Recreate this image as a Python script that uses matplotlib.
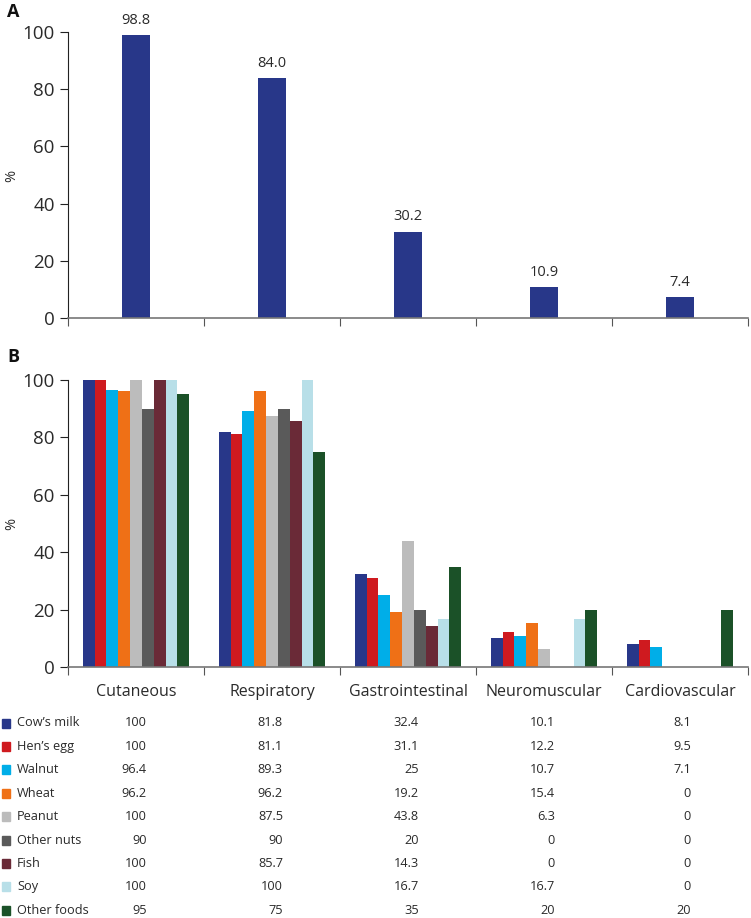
import numpy as np
import matplotlib.pyplot as plt
from matplotlib.patches import Rectangle
from matplotlib.transforms import blended_transform_factory

plt.rcParams['font.family'] = ['Open Sans', 'DejaVu Sans']

# -- Data
systems = ['Cutaneous', 'Respiratory', 'Gastrointestinal', 'Neuromuscular', 'Cardiovascular']
overall = [98.8, 84.0, 30.2, 10.9, 7.4]

foods = ['Cow\u2019s milk', 'Hen\u2019s egg', 'Walnut', 'Wheat', 'Peanut',
         'Other nuts', 'Fish', 'Soy', 'Other foods']
cows_milk = [100, 81.8, 32.4, 10.1, 8.1]
hens_egg = [100, 81.1, 31.1, 12.2, 9.5]
walnut = [96.4, 89.3, 25, 10.7, 7.1]
wheat = [96.2, 96.2, 19.2, 15.4, 0]
peanut = [100, 87.5, 43.8, 6.3, 0]
other_nuts = [90, 90, 20, 0, 0]
fish = [100, 85.7, 14.3, 0, 0]
soy = [100, 100, 16.7, 16.7, 0]
other_foods = [95, 75, 35, 20, 20]
food_values = [cows_milk, hens_egg, walnut, wheat, peanut, other_nuts, fish, soy, other_foods]

colors = ['#283789', '#cf1a1f', '#00aee8', '#ef7016', '#bcbcbc',
          '#5a5a5a', '#6a2a37', '#b8dfe8', '#1b5128']

W, H = 751, 918
fig = plt.figure(figsize=(W / 100, H / 100), dpi=100)

x = np.arange(len(systems))
tc = '#2a2a2a'


def style_axes(ax):
    ax.set_xlim(-0.5, len(systems) - 0.5)
    ax.set_ylim(0, 100)
    ax.set_yticks([0, 20, 40, 60, 80, 100])
    ax.spines['top'].set_visible(False)
    ax.spines['right'].set_visible(False)
    ax.spines['left'].set_color('#222222')
    ax.spines['bottom'].set_color('#777777')
    ax.spines['bottom'].set_linewidth(1.2)
    ax.tick_params(axis='y', labelsize=13.5, colors='#222222', length=6, labelcolor=tc)
    ax.set_xticks(np.arange(len(systems) + 1) - 0.5)
    ax.set_xticklabels([])
    ax.tick_params(axis='x', length=6, color='#555555')
    ax.set_xticks(x, minor=True)
    ax.tick_params(axis='x', which='minor', length=0, labelsize=11.5, labelcolor=tc, pad=12)


# -- Panel A
axA = fig.add_axes([68 / W, 1 - 318 / H, 680 / W, 286 / H])
bars = axA.bar(x, overall, width=0.213, color=colors[0])
for b, v in zip(bars, overall):
    axA.text(b.get_x() + b.get_width() / 2, v + 2.5, f'{v:.1f}', ha='center', va='bottom',
             fontsize=10.5, color=tc)
style_axes(axA)
fig.text(7 / W, 1 - 12 / H, 'A', fontsize=13, fontweight='bold', va='center', color='#111111')
fig.text(12 / W, 1 - 176 / H, '%', fontsize=10.5, rotation=90, ha='center', va='center', color=tc)

# -- Panel B
axB = fig.add_axes([68 / W, 1 - 667 / H, 680 / W, 287 / H])
w = 0.087
n = len(foods)
for j, (vals, c) in enumerate(zip(food_values, colors)):
    axB.bar(x + (j - (n - 1) / 2) * w, vals, width=w, color=c)
style_axes(axB)
axB.set_xticklabels(systems, minor=True)
fig.text(7 / W, 1 - 357 / H, 'B', fontsize=13, fontweight='bold', va='center', color='#111111')
fig.text(12 / W, 1 - 524 / H, '%', fontsize=10.5, rotation=90, ha='center', va='center', color=tc)

# -- Table
trans = blended_transform_factory(axB.transData, fig.transFigure)
row0, dy = 723, 23.4
for k, (name, vals, c) in enumerate(zip(foods, food_values, colors)):
    yy = 1 - (row0 + k * dy) / H
    fig.add_artist(Rectangle((2 / W, yy - 4.5 / H), 8 / W, 9 / H, color=c,
                             transform=fig.transFigure))
    fig.text(17 / W, yy, name, fontsize=9.2, va='center', color=tc)
    for i, v in enumerate(vals):
        fig.text(i + 0.08, yy, f'{v:g}', fontsize=9.2, va='center', ha='right',
                 color=tc, transform=trans)

fig.savefig('out.png', dpi=100)
